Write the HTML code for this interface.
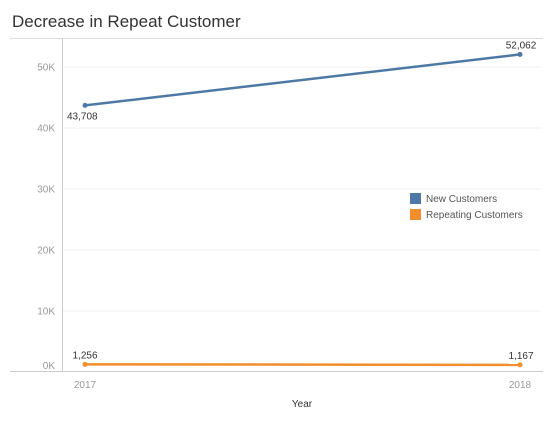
<!DOCTYPE html>
<html><head><meta charset="utf-8"><style>
body{margin:0;background:#fff;font-family:"Liberation Sans",sans-serif;}
</style></head><body>
<svg width="553" height="424" xmlns="http://www.w3.org/2000/svg" id="svg" font-family="Liberation Sans, sans-serif">
<text x="12" y="27" font-size="17" fill="#333">Decrease in Repeat Customer</text>
<line x1="10" y1="38.5" x2="543" y2="38.5" stroke="#ddd"/>
<line x1="62.5" y1="38" x2="62.5" y2="372" stroke="#ccc"/>
<line x1="10" y1="371.5" x2="543" y2="371.5" stroke="#ccc"/>
<g id="grid"></g><g id="ticks"></g><g id="series"></g>
<text x="302" y="407" font-size="10" fill="#333" text-anchor="middle">Year</text>
<g>
<g><rect x="410" y="193" width="11" height="11" fill="#4e79a7"/><text x="426" y="202" font-size="10" fill="#555">New Customers</text></g>
<g><rect x="410" y="209" width="11" height="11" fill="#f28e2b"/><text x="426" y="218" font-size="10" fill="#555">Repeating Customers</text></g>
</g>
</svg>
<script>
const years=["2017","2018"];
const newCustomers=[43708,52062];
const repeatingCustomers=[1256,1167];
const yTicks=[0,10000,20000,30000,40000,50000];
const yTickLabels=["0K","10K","20K","30K","40K","50K"];
const NS="http://www.w3.org/2000/svg";
const y=v=>372-v*0.0061;
const x=i=>85+i*435;
function mk(t,a,p){const e=document.createElementNS(NS,t);for(const k in a)e.setAttribute(k,a[k]);p.appendChild(e);return e;}
const grid=document.getElementById('grid'),ticks=document.getElementById('ticks'),ser=document.getElementById('series');
yTicks.forEach((v,i)=>{
 if(v>0){const g=mk('line',{x1:63,x2:541,y1:y(v),y2:y(v),stroke:'#f0f0f0'},grid);
 
 }
 const t=mk('text',{x:55,y:(v===0?y(v)-3:y(v)+3.5),'font-size':10,fill:'#999','text-anchor':'end'},ticks);
 t.textContent=yTickLabels[i];
 
 
});
years.forEach((yr,i)=>{
 const t=mk('text',{x:x(i),y:388,'font-size':10,fill:'#999','text-anchor':'middle'},ticks);
 t.textContent=yr;
 
 
});
function series(vals,color,name,labelDy){
 const pts=vals.map((v,i)=>x(i)+','+y(v)).join(' ');
 const l=mk('polyline',{points:pts,fill:'none',stroke:color,'stroke-width':2.5},ser);
 
 
 vals.forEach((v,i)=>{
  const c=mk('circle',{cx:x(i),cy:y(v),r:2.5,fill:color},ser);
  
  
  const t=mk('text',{x:i===0?x(i):x(i)+1,y:y(v)+labelDy[i],'font-size':10,fill:'#333','text-anchor':i===0?(name==='new'?'start':'middle'):'middle'},ser);
  if(i===0&&name==='new')t.setAttribute('x',x(i)-18);
  t.textContent=v.toLocaleString('en-US');
  
  
 });
}
series(newCustomers,'#4e79a7','new',[14,-6]);
series(repeatingCustomers,'#f28e2b','repeating',[-6,-6]);
</script>
</body></html>
